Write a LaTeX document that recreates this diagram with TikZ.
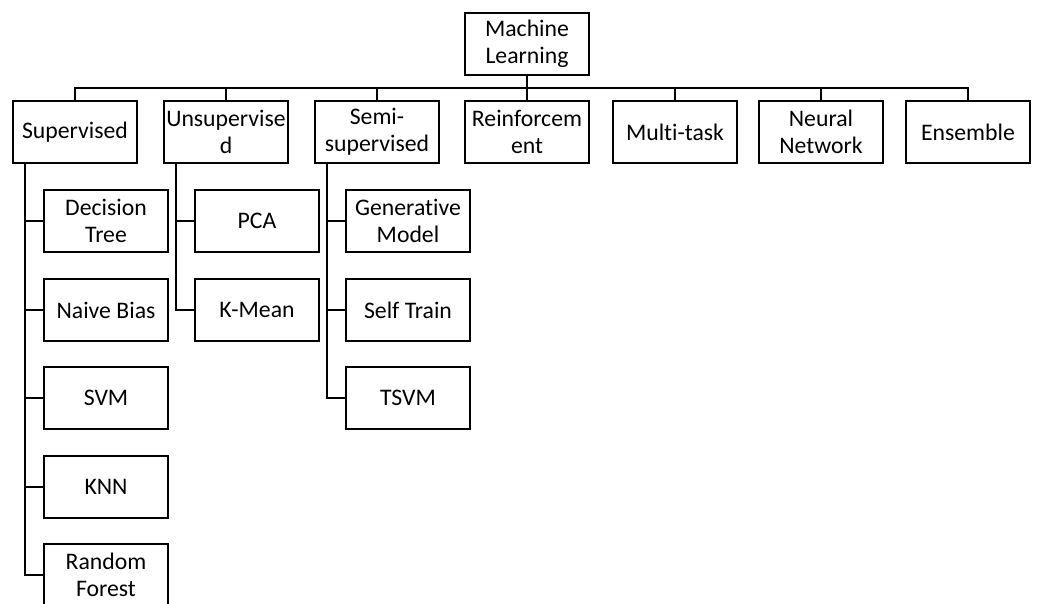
\documentclass[tikz,border=0pt]{standalone}
\usepackage{fontspec}
\setmainfont[Ligatures=NoCommon]{Carlito}
\usetikzlibrary{positioning,calc}

\tikzset{
  mlbox/.style={draw, line width=1.4pt, align=center, inner sep=1pt,
    minimum width=93pt, minimum height=46.5pt,
    font=\fontsize{17.8}{20.5}\selectfont},
  tree/.style={line width=1.4pt}
}

\begin{document}
\begin{tikzpicture}[x=0.75pt, y=-0.75pt]
			\useasboundingbox (0,0) rectangle (1038,603);
			\clip (0,0) rectangle (1038,603);
			
			% Root
			\node[mlbox] (ml) at (527,44) {Machine\\Learning};
			\coordinate (bus) at (527,88);
			
			% Learning types
			\node[mlbox] (sup) at (75,132) {Supervised};
			\node[mlbox] (uns) at (226,132) {Unsupervise\\d};
			\node[mlbox] (semi) at (377,132) {Semi-\\supervised};
			\node[mlbox] (rein) at (527,132) {Reinforcem\\ent};
			\node[mlbox] (multi) at (675,132) {Multi-task};
			\node[mlbox] (nn) at (821,132) {Neural\\Network};
			\node[mlbox] (ens) at (968,132) {Ensemble};
			
			\draw[tree] (ml.south) -- (bus);
			\foreach \t in {sup,uns,semi,rein,multi,nn,ens}
				\draw[tree] (bus) -| (\t.north);
			
			% Supervised methods
			\node[mlbox] (dt) at (106,221) {Decision\\Tree};
			\node[mlbox] (nb) at (106,310) {Naive Bias};
			\node[mlbox] (svm) at (106,398) {SVM};
			\node[mlbox] (knn) at (106,487) {KNN};
			\node[mlbox] (rf) at (106,575) {Random\\Forest};
			\foreach \t in {dt,nb,svm,knn,rf}
				\draw[tree] ([xshift=9.75pt]sup.south west) |- (\t.west);
			
			% Unsupervised methods
			\node[mlbox] (pca) at (257,221) {PCA};
			\node[mlbox] (km) at (257,310) {K-Mean};
			\foreach \t in {pca,km}
				\draw[tree] ([xshift=9.75pt]uns.south west) |- (\t.west);
			
			% Semi-supervised methods
			\node[mlbox] (gm) at (408,221) {Generative\\Model};
			\node[mlbox] (st) at (408,310) {Self Train};
			\node[mlbox] (tsvm) at (408,398) {TSVM};
			\foreach \t in {gm,st,tsvm}
				\draw[tree] ([xshift=9.75pt]semi.south west) |- (\t.west);
		\end{tikzpicture}
\end{document}
